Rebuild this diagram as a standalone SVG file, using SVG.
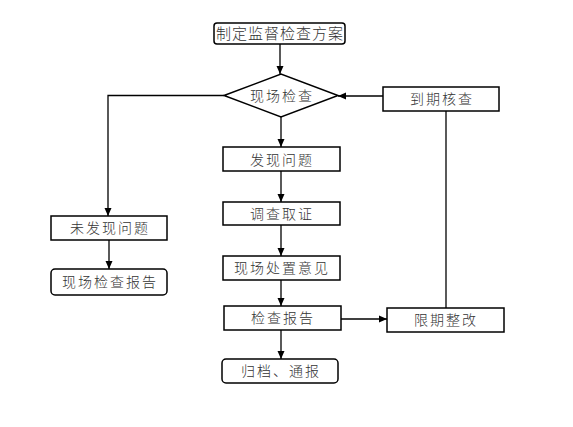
<svg xmlns="http://www.w3.org/2000/svg" width="573" height="427" viewBox="0 0 573 427">
<defs>
<marker id="arr" markerUnits="userSpaceOnUse" markerWidth="8" markerHeight="8" viewBox="0 0 8 8" refX="8" refY="4" orient="auto">
<path d="M0,0.5 L8,4 L0,7.5 Z" fill="#000"/>
</marker>
<style>
.box{fill:#fff;stroke:#000;stroke-width:1.5}
.t{font-family:"Noto Sans CJK SC","Noto Sans CJK JP",sans-serif;font-size:14px;font-weight:300;fill:#333;text-anchor:middle;letter-spacing:2px}
.c{fill:none;stroke:#000;stroke-width:1.3}
</style>
</defs>
<rect width="573" height="427" fill="#fff"/>
<g id="connectors">
<path class="c" d="M280,44 V74" marker-end="url(#arr)"/>
<path class="c" d="M224,95.5 H108 V216" marker-end="url(#arr)"/>
<path class="c" d="M109,240 V269" marker-end="url(#arr)"/>
<path class="c" d="M281,117 V147" marker-end="url(#arr)"/>
<path class="c" d="M281,171 V202" marker-end="url(#arr)"/>
<path class="c" d="M281,225 V256" marker-end="url(#arr)"/>
<path class="c" d="M281,280 V306" marker-end="url(#arr)"/>
<path class="c" d="M281,330 V359" marker-end="url(#arr)"/>
<path class="c" d="M341,319 H387" marker-end="url(#arr)"/>
<path class="c" d="M446,308 V111"/>
<path class="c" d="M383,96 H338" marker-end="url(#arr)"/>
</g>
<g id="n-plan">
<rect class="box" x="214" y="23" width="131" height="21" rx="3"/>
<text class="t" x="280" y="39" style="font-size:15px;letter-spacing:1px">制定监督检查方案</text>
</g>
<g id="n-check">
<path class="box" d="M224,95.5 L281,74 L338,95.5 L281,117 Z"/>
<text class="t" x="282" y="101">现场检查</text>
</g>
<g id="n-recheck">
<rect class="box" x="383" y="87" width="116" height="24"/>
<text class="t" x="442" y="104">到期核查</text>
</g>
<g id="n-noissue">
<rect class="box" x="51" y="216" width="116" height="24"/>
<text class="t" x="110" y="233">未发现问题</text>
</g>
<g id="n-report1">
<rect class="box" x="51" y="269" width="116" height="26" rx="4"/>
<text class="t" x="110" y="287">现场检查报告</text>
</g>
<g id="n-issue">
<rect class="box" x="223" y="147" width="117" height="24"/>
<text class="t" x="282" y="165">发现问题</text>
</g>
<g id="n-evidence">
<rect class="box" x="223" y="202" width="117" height="23"/>
<text class="t" x="282" y="219">调查取证</text>
</g>
<g id="n-opinion">
<rect class="box" x="223" y="256" width="117" height="24"/>
<text class="t" x="282" y="273">现场处置意见</text>
</g>
<g id="n-report">
<rect class="box" x="224" y="306" width="117" height="24"/>
<text class="t" x="283" y="323">检查报告</text>
</g>
<g id="n-rectify">
<rect class="box" x="387" y="308" width="117" height="24"/>
<text class="t" x="446" y="325">限期整改</text>
</g>
<g id="n-archive">
<rect class="box" x="222" y="359" width="116" height="24" rx="4"/>
<text class="t" x="281" y="376">归档、通报</text>
</g>
</svg>
